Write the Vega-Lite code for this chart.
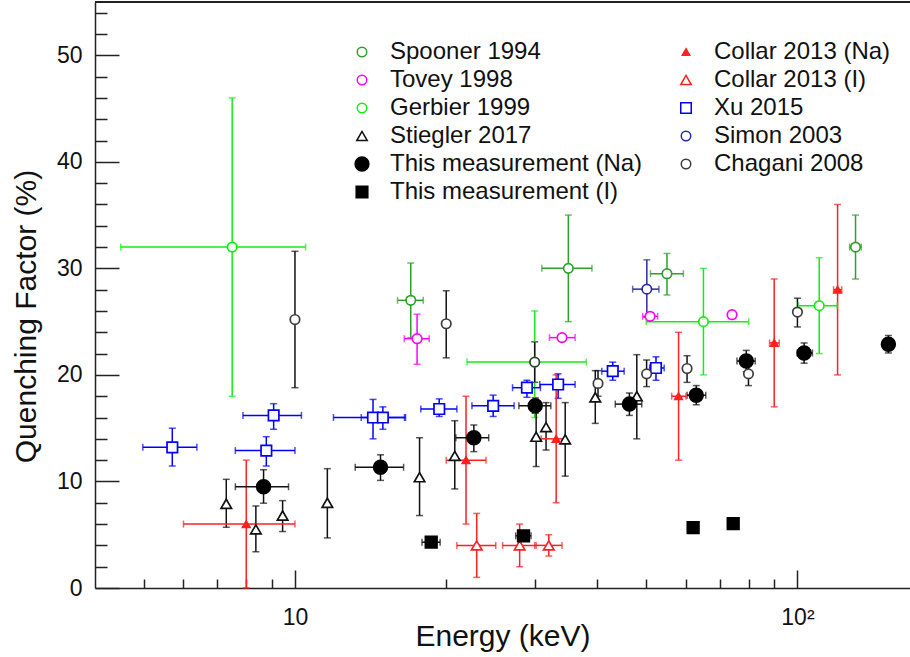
{
  "$schema": "https://vega.github.io/schema/vega-lite/v6.json",
  "width": 815,
  "height": 586,
  "autosize": {"type": "none"},
  "padding": {"left": 95, "top": 2, "right": 0, "bottom": 69},
  "background": "white",
  "resolve": {"axis": {"x": "independent", "y": "independent"}},
  "config": {
    "view": {"stroke": null},
    "font": "Liberation Sans",
    "axis": {
      "grid": false,
      "domainColor": "#222222",
      "domainWidth": 1.5,
      "tickColor": "#222222",
      "tickWidth": 1.5,
      "labelFont": "Liberation Sans",
      "labelFontSize": 23,
      "labelColor": "#111111",
      "titleFont": "Liberation Sans",
      "titleFontSize": 30,
      "titleFontWeight": "normal",
      "titleColor": "#111111",
      "labelOverlap": false
    },
    "legend": {
      "labelFont": "Liberation Sans",
      "labelFontSize": 24,
      "labelColor": "#111111",
      "labelLimit": 400
    }
  },
  "data": {
    "values": [
      {"s": "Spooner 1994", "x": 17, "y": 27, "xl": 16, "xh": 18, "yl": 23.5, "yh": 30.5},
      {"s": "Spooner 1994", "x": 35, "y": 30, "xl": 31, "xh": 39, "yl": 25, "yh": 35},
      {"s": "Spooner 1994", "x": 55, "y": 29.5, "xl": 51, "xh": 59.3, "yl": 27.5, "yh": 31.4},
      {"s": "Spooner 1994", "x": 130.5, "y": 32, "xl": 127, "xh": 134, "yl": 29, "yh": 35},
      {"s": "Tovey 1998", "x": 17.5, "y": 23.4, "xl": 16.5, "xh": 18.5, "yl": 21, "yh": 25.7},
      {"s": "Tovey 1998", "x": 34, "y": 23.5, "xl": 32.1, "xh": 36.1, "yl": null, "yh": null},
      {"s": "Tovey 1998", "x": 50.9, "y": 25.5, "xl": 49.2, "xh": 52.7, "yl": null, "yh": null},
      {"s": "Tovey 1998", "x": 74.1, "y": 25.65, "xl": null, "xh": null, "yl": null, "yh": null},
      {"s": "Gerbier 1999", "x": 7.5, "y": 32, "xl": 4.5, "xh": 10.5, "yl": 18, "yh": 46},
      {"s": "Gerbier 1999", "x": 30, "y": 21.2, "xl": 22, "xh": 38, "yl": 16, "yh": 26},
      {"s": "Gerbier 1999", "x": 65, "y": 25, "xl": 50, "xh": 80, "yl": 20, "yh": 30},
      {"s": "Gerbier 1999", "x": 110.5, "y": 26.5, "xl": 100.5, "xh": 120, "yl": 22, "yh": 31},
      {"s": "Stiegler 2017", "x": 7.3, "y": 7.9, "xl": null, "xh": null, "yl": 5.7, "yh": 10.2},
      {"s": "Stiegler 2017", "x": 8.36, "y": 5.5, "xl": null, "xh": null, "yl": 3.4, "yh": 7.7},
      {"s": "Stiegler 2017", "x": 9.45, "y": 6.8, "xl": null, "xh": null, "yl": 5.3, "yh": 8.2},
      {"s": "Stiegler 2017", "x": 11.6, "y": 8.0, "xl": null, "xh": null, "yl": 4.7, "yh": 11.2},
      {"s": "Stiegler 2017", "x": 17.7, "y": 10.4, "xl": null, "xh": null, "yl": 6.8, "yh": 14.1},
      {"s": "Stiegler 2017", "x": 20.8, "y": 12.4, "xl": null, "xh": null, "yl": 9.3, "yh": 15.7},
      {"s": "Stiegler 2017", "x": 30.2, "y": 14.2, "xl": null, "xh": null, "yl": 11.4, "yh": 17.2},
      {"s": "Stiegler 2017", "x": 31.6, "y": 15.1, "xl": null, "xh": null, "yl": 12.95, "yh": 17.4},
      {"s": "Stiegler 2017", "x": 34.5, "y": 13.95, "xl": null, "xh": null, "yl": 10.5, "yh": 17.4},
      {"s": "Stiegler 2017", "x": 39.6, "y": 17.9, "xl": null, "xh": null, "yl": 15.45, "yh": 20.4},
      {"s": "Stiegler 2017", "x": 47.9, "y": 18.0, "xl": null, "xh": null, "yl": 14.0, "yh": 21.9},
      {"s": "Collar 2013 (Na)", "x": 8.0, "y": 6, "xl": 6, "xh": 10, "yl": 0, "yh": 12},
      {"s": "Collar 2013 (Na)", "x": 21.9, "y": 12, "xl": 20, "xh": 24, "yl": 6, "yh": 18},
      {"s": "Collar 2013 (Na)", "x": 33.1, "y": 14, "xl": 30.9, "xh": 34.6, "yl": 8, "yh": 20},
      {"s": "Collar 2013 (Na)", "x": 58, "y": 18, "xl": 56.2, "xh": 60, "yl": 12, "yh": 24},
      {"s": "Collar 2013 (Na)", "x": 89.9, "y": 23, "xl": 88, "xh": 92, "yl": 17, "yh": 29},
      {"s": "Collar 2013 (Na)", "x": 120.2, "y": 28, "xl": 118, "xh": 122.5, "yl": 20, "yh": 36},
      {"s": "Collar 2013 (I)", "x": 23, "y": 4, "xl": 21, "xh": 25.1, "yl": 1, "yh": 7},
      {"s": "Collar 2013 (I)", "x": 28, "y": 4, "xl": 25.9, "xh": 30.2, "yl": 2, "yh": 6},
      {"s": "Collar 2013 (I)", "x": 32, "y": 4, "xl": 30, "xh": 34, "yl": 3, "yh": 5},
      {"s": "Xu 2015", "x": 5.7, "y": 13.2, "xl": 4.98, "xh": 6.38, "yl": 11.45, "yh": 15.0},
      {"s": "Xu 2015", "x": 8.77, "y": 12.9, "xl": 7.61, "xh": 10.0, "yl": 11.45, "yh": 14.2},
      {"s": "Xu 2015", "x": 9.07, "y": 16.2, "xl": 7.88, "xh": 10.3, "yl": 14.9, "yh": 17.3},
      {"s": "Xu 2015", "x": 14.3, "y": 16.0, "xl": 11.93, "xh": 16.6, "yl": 14.0, "yh": 17.7},
      {"s": "Xu 2015", "x": 14.96, "y": 16.0, "xl": 13.55, "xh": 16.52, "yl": 14.9, "yh": 17.0},
      {"s": "Xu 2015", "x": 19.37, "y": 16.8, "xl": 17.8, "xh": 21.0, "yl": 16.1, "yh": 17.75},
      {"s": "Xu 2015", "x": 24.8, "y": 17.1, "xl": 22.5, "xh": 27.3, "yl": 16.1, "yh": 18.1},
      {"s": "Xu 2015", "x": 28.95, "y": 18.8, "xl": 27.1, "xh": 30.8, "yl": 17.9, "yh": 19.5},
      {"s": "Xu 2015", "x": 33.4, "y": 19.1, "xl": 30.7, "xh": 36.1, "yl": 17.8, "yh": 20.1},
      {"s": "Xu 2015", "x": 42.9, "y": 20.35, "xl": 40.8, "xh": 45.2, "yl": 19.5, "yh": 21.2},
      {"s": "Xu 2015", "x": 52.3, "y": 20.65, "xl": 50.8, "xh": 54.3, "yl": 19.5, "yh": 21.7},
      {"s": "Simon 2003", "x": 50.15, "y": 28.05, "xl": 47, "xh": 53, "yl": 25.4, "yh": 30.8},
      {"s": "Chagani 2008", "x": 10.0, "y": 25.2, "xl": null, "xh": null, "yl": 18.8, "yh": 31.6},
      {"s": "Chagani 2008", "x": 20.0, "y": 24.8, "xl": null, "xh": null, "yl": 21.6, "yh": 27.9},
      {"s": "Chagani 2008", "x": 30.0, "y": 21.2, "xl": null, "xh": null, "yl": 19.3, "yh": 23.1},
      {"s": "Chagani 2008", "x": 40.1, "y": 19.2, "xl": null, "xh": null, "yl": 18.0, "yh": 20.4},
      {"s": "Chagani 2008", "x": 50.1, "y": 20.1, "xl": null, "xh": null, "yl": 18.9, "yh": 21.4},
      {"s": "Chagani 2008", "x": 60.3, "y": 20.6, "xl": null, "xh": null, "yl": 19.3, "yh": 21.8},
      {"s": "Chagani 2008", "x": 79.9, "y": 20.1, "xl": null, "xh": null, "yl": 19.0, "yh": 21.3},
      {"s": "Chagani 2008", "x": 100, "y": 25.9, "xl": null, "xh": null, "yl": 24.5, "yh": 27.2},
      {"s": "This measurement (Na)", "x": 8.66, "y": 9.5, "xl": 7.61, "xh": 9.71, "yl": 7.96, "yh": 11.1},
      {"s": "This measurement (Na)", "x": 14.8, "y": 11.33, "xl": 13.18, "xh": 16.45, "yl": 10.1, "yh": 12.5},
      {"s": "This measurement (Na)", "x": 22.7, "y": 14.1, "xl": 20.9, "xh": 24.3, "yl": 12.8, "yh": 15.3},
      {"s": "This measurement (Na)", "x": 30.07, "y": 17.1, "xl": 27.9, "xh": 32.3, "yl": 16.4, "yh": 17.85},
      {"s": "This measurement (Na)", "x": 46.3, "y": 17.26, "xl": 43.4, "xh": 49.0, "yl": 16.2, "yh": 18.3},
      {"s": "This measurement (Na)", "x": 62.9, "y": 18.1, "xl": 60.3, "xh": 65.7, "yl": 17.2, "yh": 19.0},
      {"s": "This measurement (Na)", "x": 79.1, "y": 21.3, "xl": 75.8, "xh": 82.4, "yl": 20.3, "yh": 22.3},
      {"s": "This measurement (Na)", "x": 103.1, "y": 22.06, "xl": 99.9, "xh": 107.1, "yl": 21.1, "yh": 23.0},
      {"s": "This measurement (Na)", "x": 151.7, "y": 22.87, "xl": null, "xh": null, "yl": 22.06, "yh": 23.7},
      {"s": "This measurement (I)", "x": 18.67, "y": 4.3, "xl": 17.9, "xh": 19.45, "yl": null, "yh": null},
      {"s": "This measurement (I)", "x": 28.5, "y": 4.9, "xl": 27.5, "xh": 29.5, "yl": null, "yh": null},
      {"s": "This measurement (I)", "x": 62.0, "y": 5.67, "xl": null, "xh": null, "yl": null, "yh": null},
      {"s": "This measurement (I)", "x": 74.5, "y": 6.05, "xl": null, "xh": null, "yl": null, "yh": null}
    ]
  },
  "layer": [
    {
      "mark": {"type": "rule", "color": "#222222", "strokeWidth": 1.5},
      "encoding": {
        "y": {
          "datum": 55, "type": "quantitative",
          "scale": {"domain": [0, 55], "nice": false, "zero": false},
          "axis": {
            "orient": "left",
            "values": [2, 4, 6, 8, 12, 14, 16, 18, 22, 24, 26, 28, 32, 34, 36, 38, 42, 44, 46, 48, 52, 54],
            "tickSize": -12, "labels": false, "domain": false, "title": null
          }
        }
      }
    },
    {
      "transform": [{"filter": "datum.yl != null"}],
      "mark": {"type": "errorbar", "thickness": 1.5, "ticks": {"size": 7, "thickness": 1.5}},
      "encoding": {
        "x": {
          "field": "x", "type": "quantitative",
          "scale": {"type": "log", "domain": [4, 167.5], "nice": false},
          "axis": {
            "orient": "bottom",
            "values": [5, 6, 7, 8, 9, 20, 30, 40, 50, 60, 70, 80, 90],
            "tickSize": -9, "labels": false, "domain": false, "title": null
          }
        },
        "y": {
          "field": "yl", "type": "quantitative",
          "scale": {"domain": [0, 55], "nice": false, "zero": false},
          "axis": null
        },
        "y2": {"field": "yh"},
        "color": {
          "field": "s", "type": "nominal", "legend": null,
          "scale": {
            "domain": ["Chagani 2008", "Collar 2013 (I)", "Collar 2013 (Na)", "Gerbier 1999", "Simon 2003", "Spooner 1994", "Stiegler 2017", "This measurement (I)", "This measurement (Na)", "Tovey 1998", "Xu 2015"],
            "range": ["#111111", "#ff2020", "#ff2020", "#11ee11", "#2b2ba0", "#2ea02e", "#111111", "#111111", "#111111", "#ff00ff", "#0000ff"]
          }
        }
      }
    },
    {
      "transform": [{"filter": "datum.xl != null"}],
      "mark": {"type": "errorbar", "thickness": 1.5, "ticks": {"size": 7, "thickness": 1.5}},
      "encoding": {
        "y": {
          "field": "y", "type": "quantitative",
          "scale": {"domain": [0, 55], "nice": false, "zero": false},
          "axis": null
        },
        "x": {
          "field": "xl", "type": "quantitative",
          "scale": {"type": "log", "domain": [4, 167.5], "nice": false},
          "axis": null
        },
        "x2": {"field": "xh"},
        "color": {
          "field": "s", "type": "nominal", "legend": null,
          "scale": {
            "domain": ["Chagani 2008", "Collar 2013 (I)", "Collar 2013 (Na)", "Gerbier 1999", "Simon 2003", "Spooner 1994", "Stiegler 2017", "This measurement (I)", "This measurement (Na)", "Tovey 1998", "Xu 2015"],
            "range": ["#111111", "#ff2020", "#ff2020", "#11ee11", "#2b2ba0", "#2ea02e", "#111111", "#111111", "#111111", "#ff00ff", "#0000ff"]
          }
        }
      }
    },
    {
      "mark": {"type": "point", "strokeWidth": 1.7, "opacity": 1},
      "encoding": {
        "x": {
          "field": "x", "type": "quantitative",
          "scale": {"type": "log", "domain": [4, 167.5], "nice": false},
          "axis": {
            "orient": "bottom",
            "values": [10, 100],
            "labelExpr": "datum.value == 10 ? '10' : '10²'",
            "tickSize": -18,
            "labelPadding": 36,
            "title": "Energy (keV)",
            "titleBaseline": "alphabetic",
            "titleY": 57
          }
        },
        "y": {
          "field": "y", "type": "quantitative",
          "scale": {"domain": [0, 55], "nice": false, "zero": false},
          "axis": {
            "orient": "left",
            "values": [0, 10, 20, 30, 40, 50],
            "tickSize": -24,
            "labelPadding": 37,
            "title": "Quenching Factor (%)",
            "titleBaseline": "alphabetic",
            "titleX": -60,
            "titleY": 314
          }
        },
        "stroke": {
          "field": "s", "type": "nominal",
          "scale": {
            "domain": ["Spooner 1994", "Tovey 1998", "Gerbier 1999", "Stiegler 2017", "This measurement (Na)", "This measurement (I)", "Collar 2013 (Na)", "Collar 2013 (I)", "Xu 2015", "Simon 2003", "Chagani 2008"],
            "range": ["#2ea02e", "#ff00ff", "#11ee11", "#111111", "#000000", "#000000", "#ff2020", "#ff2020", "#0000ff", "#2b2ba0", "#3c3c3c"]
          },
          "legend": {
            "title": null, "orient": "none", "legendX": 255, "legendY": 38, "columns": 2,
            "columnPadding": 31, "rowPadding": 4, "labelOffset": 16, "symbolStrokeWidth": 1.5
          }
        },
        "fill": {
          "field": "s", "type": "nominal",
          "scale": {
            "domain": ["Spooner 1994", "Tovey 1998", "Gerbier 1999", "Stiegler 2017", "This measurement (Na)", "This measurement (I)", "Collar 2013 (Na)", "Collar 2013 (I)", "Xu 2015", "Simon 2003", "Chagani 2008"],
            "range": ["white", "white", "white", "white", "#000000", "#000000", "#ff2020", "white", "white", "white", "white"]
          },
          "legend": {
            "title": null, "orient": "none", "legendX": 255, "legendY": 38, "columns": 2,
            "columnPadding": 31, "rowPadding": 4, "labelOffset": 16, "symbolStrokeWidth": 1.5
          }
        },
        "shape": {
          "field": "s", "type": "nominal",
          "scale": {
            "domain": ["Spooner 1994", "Tovey 1998", "Gerbier 1999", "Stiegler 2017", "This measurement (Na)", "This measurement (I)", "Collar 2013 (Na)", "Collar 2013 (I)", "Xu 2015", "Simon 2003", "Chagani 2008"],
            "range": ["circle", "circle", "circle", "triangle-up", "circle", "square", "triangle-up", "triangle-up", "square", "circle", "circle"]
          },
          "legend": {
            "title": null, "orient": "none", "legendX": 255, "legendY": 38, "columns": 2,
            "columnPadding": 31, "rowPadding": 4, "labelOffset": 16, "symbolStrokeWidth": 1.5
          }
        },
        "size": {
          "field": "s", "type": "nominal",
          "scale": {
            "type": "ordinal",
            "domain": ["Spooner 1994", "Tovey 1998", "Gerbier 1999", "Stiegler 2017", "This measurement (Na)", "This measurement (I)", "Collar 2013 (Na)", "Collar 2013 (I)", "Xu 2015", "Simon 2003", "Chagani 2008"],
            "range": [90, 90, 90, 110, 190, 135, 55, 110, 110, 90, 90]
          },
          "legend": {
            "title": null, "orient": "none", "legendX": 255, "legendY": 38, "columns": 2,
            "columnPadding": 31, "rowPadding": 4, "labelOffset": 16, "symbolStrokeWidth": 1.5
          }
        }
      }
    }
  ]
}
